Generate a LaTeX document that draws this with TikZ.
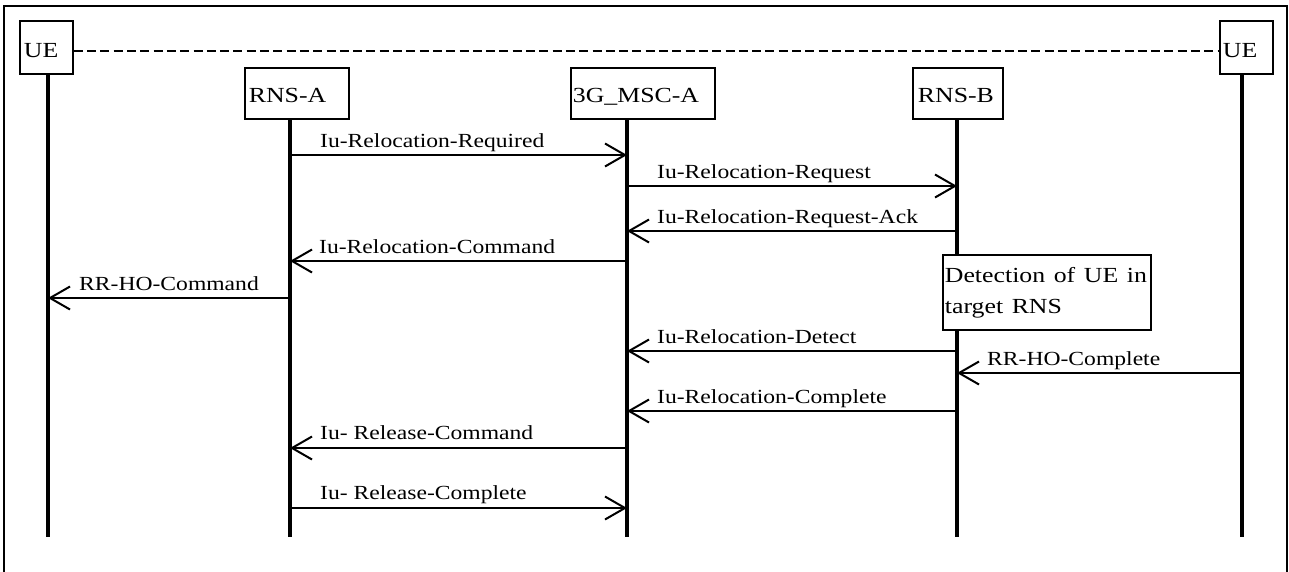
\documentclass[tikz,border=0pt]{standalone}
\usepackage{fontspec}
\setmainfont{Liberation Serif}
\usepackage{graphicx}
\usetikzlibrary{arrows.meta}
\newcommand{\msgtxt}[1]{\scalebox{1.18}[1]{\fontsize{20pt}{24pt}\selectfont #1}}
\newcommand{\boxtxt}[1]{\scalebox{1.2}[1]{\fontsize{21.5pt}{31pt}\selectfont #1}}
\begin{document}
\begin{tikzpicture}[x=1pt,y=-1pt,
  entity/.style={draw, line width=1.8pt, inner sep=0pt, anchor=north west, align=left, text depth=0pt},
  life/.style={line width=4pt},
  msg/.style={line width=2pt, -{Straight Barb[length=20pt,width=23pt,line width=2pt]}},
  lbl/.style={anchor=base west, inner sep=0pt},
  dashline/.style={line width=2pt, dash pattern=on 9pt off 4.3pt}]
\useasboundingbox (0,0) rectangle (1289,571);
\draw[line width=1.5pt] (4,6) rectangle (1287,590);

% entities
\node[entity, text width=53pt, minimum height=53pt, text height=21pt] (ue1) at (19,20) {\hspace{4pt}\boxtxt{UE}};
\node[entity, text width=104pt, minimum height=51pt, text height=19pt] (rnsa) at (244,67) {\hspace{4pt}\boxtxt{RNS-A}};
\node[entity, text width=144pt, minimum height=51pt, text height=19pt] (msc) at (570,67) {\hspace{2pt}\boxtxt{3G\_MSC-A}};
\node[entity, text width=90pt, minimum height=51pt, text height=19pt] (rnsb) at (912,67) {\hspace{5pt}\boxtxt{RNS-B}};
\node[entity, text width=53pt, minimum height=53pt, text height=21pt] (ue2) at (1219,20) {\hspace{3pt}\boxtxt{UE}};

% lifeline ends
\coordinate (l1) at (48,537);
\coordinate (l2) at (290,537);
\coordinate (l3) at (627,537);
\coordinate (l4) at (957,537);
\coordinate (l5) at (1242,537);

\draw[dashline] (ue1.north east |- 0,50.5) -- (ue2.north west |- 0,50.5);

\draw[life] (ue1.south -| l1) -- (l1);
\draw[life] (rnsa.south -| l2) -- (l2);
\draw[life] (msc.south -| l3) -- (l3);
\draw[life] (rnsb.south -| l4) -- (l4);
\draw[life] (ue2.south -| l5) -- (l5);

% detection box
\node[draw, fill=white, line width=1.8pt, inner sep=0pt, anchor=north west, minimum width=208pt, minimum height=75pt, text width=206pt, align=left, font=\fontsize{21.5pt}{31pt}\selectfont] (det) at (942,254) {\hspace{1pt}\boxtxt{Detection of UE in}\\\hspace{1pt}\boxtxt{target RNS}};

% messages
\draw[msg] (l2 |- 0,155) -- (l3 |- 0,155);
\node[lbl] (m1) at (320,147) {\msgtxt{Iu-Relocation-Required}};
\draw[msg] (l3 |- 0,186) -- (l4 |- 0,186);
\node[lbl] (m2) at (657,178) {\msgtxt{Iu-Relocation-Request}};
\draw[msg] (l4 |- 0,231) -- (l3 |- 0,231);
\node[lbl] (m3) at (657,223) {\msgtxt{Iu-Relocation-Request-Ack}};
\draw[msg] (l3 |- 0,261) -- (l2 |- 0,261);
\node[lbl] (m4) at (319,253) {\msgtxt{Iu-Relocation-Command}};
\draw[msg] (l2 |- 0,298) -- (l1 |- 0,298);
\node[lbl] (m5) at (79,290) {\msgtxt{RR-HO-Command}};
\draw[msg] (l4 |- 0,351) -- (l3 |- 0,351);
\node[lbl] (m6) at (657,343) {\msgtxt{Iu-Relocation-Detect}};
\draw[msg] (l5 |- 0,373) -- (l4 |- 0,373);
\node[lbl] (m7) at (987,365) {\msgtxt{RR-HO-Complete}};
\draw[msg] (l4 |- 0,411) -- (l3 |- 0,411);
\node[lbl] (m8) at (657,403) {\msgtxt{Iu-Relocation-Complete}};
\draw[msg] (l3 |- 0,448) -- (l2 |- 0,448);
\node[lbl] (m9) at (320,439) {\msgtxt{Iu- Release-Command}};
\draw[msg] (l2 |- 0,508) -- (l3 |- 0,508);
\node[lbl] (m10) at (320,499) {\msgtxt{Iu- Release-Complete}};
\end{tikzpicture}
\end{document}
